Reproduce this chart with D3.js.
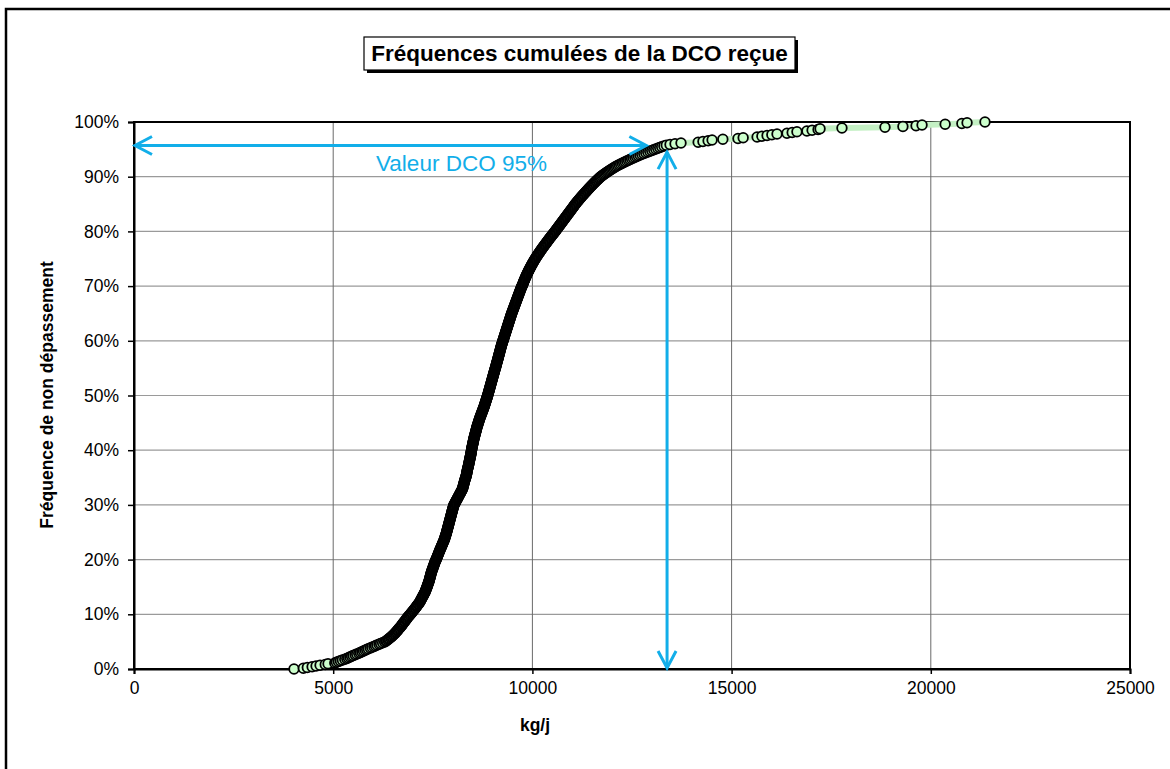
<!DOCTYPE html>
<html><head><meta charset="utf-8">
<script src="https://cdn.jsdelivr.net/npm/d3@7"></script>
<style>
body{margin:0;background:#fff;}
svg text{font-family:Arial,"Liberation Sans",Helvetica,sans-serif;}
</style>
</head><body>
<svg id="c" width="1170" height="769"></svg>
<script>
// Sorted daily DCO loads (kg/j)
const kgj = [
4016,4250,4350,4470,4570,4670,4800,4870,5040,
5080,5130,5180,5230,5290,5340,
5380,5420,5460,5500,5550,5590,5640,
5680,5720,5760,5800,5840,5880,5930,5970,
6020,6060,6100,6150,6190,6240,6290,
6320,6340,6370,6390,6410,6440,6460,
6480,6500,6520,6540,6560,6570,6590,6610,
6620,6640,6650,6670,6690,6700,6720,
6730,6740,6760,6770,6790,6800,6820,
6830,6840,6860,6870,6890,6900,6920,
6940,6950,6970,6980,7000,7010,7030,7040,7060,7070,7090,7100,7110,7130,7140,
7160,7170,7180,7190,7200,7210,7220,7230,7240,7250,7260,7270,7280,7290,7300,
7310,7315,7320,7330,7340,7345,7350,7360,7365,7370,7380,7385,7390,7400,
7405,7410,7415,7420,7425,7430,7435,7440,7445,7450,7455,7460,7465,7470,7480,
7485,7490,7500,7505,7510,7520,7525,7530,7540,7545,7550,7560,7570,7575,
7585,7590,7600,7610,7615,7620,7630,7640,7645,7650,7660,7670,7675,7680,7690,
7700,7705,7715,7720,7730,7740,7745,7755,7760,7770,7780,7785,7790,7800,
7805,7810,7815,7820,7830,7835,7840,7845,7850,7855,7860,7865,7870,7875,7880,
7885,7890,7895,7900,7905,7910,7915,7920,7925,7930,7935,7940,7945,7950,7955,
7960,7965,7970,7975,7980,7985,7990,7995,8000,8005,8010,8015,8020,8025,
8035,8045,8055,8065,8075,8085,8095,8105,8115,8125,8135,8145,8155,8165,8175,8185,8195,8205,8215,8225,8235,8245,
8250,8255,8260,8265,8270,8275,8280,8285,8290,8295,8300,8305,8310,8320,8325,
8330,8335,8340,8345,8350,8352,8355,8360,8363,8366,8370,8375,8380,8385,8390,
8394,8398,8402,8406,8410,8414,8418,8422,8426,8430,8434,8438,8442,8446,8450,8454,8458,8461,8464,8467,8470,
8473,8476,8480,8484,8488,8492,8496,8500,8504,8508,8512,8516,8520,8524,8528,
8532,8537,8542,8547,8552,8557,8562,8567,8572,8577,8582,8587,8592,8597,
8600,8606,8612,8618,8624,8630,8636,8642,8648,8654,8660,8666,8672,8678,8685,
8692,8699,8706,8713,8720,8727,8734,8741,8748,8755,8762,8769,8776,8783,
8790,8796,8802,8808,8814,8820,8826,8832,8838,8844,8850,8856,8862,8868,8875,
8881,8886,8891,8897,8902,8907,8912,8918,8923,8928,8933,8939,8944,8949,8954,8960,8965,8970,8975,8981,8986,8991,8996,9002,9007,9012,9017,9023,9028,9033,9038,9044,9049,9054,9059,9065,
9072,9077,9082,9087,9092,9097,9102,9107,9112,9118,9123,9128,9133,9138,9143,9148,9153,9158,9163,9168,9173,9178,9183,9188,9193,9198,9203,9208,9213,9218,9223,9229,9235,9241,9247,9253,9259,
9265,9271,9277,9283,9289,9295,9301,9307,9313,9319,9325,9331,9337,9343,9349,9355,9361,9367,9373,9379,9385,9391,9397,9403,9409,9415,9421,9427,9433,9439,9445,9451,9457,9463,9469,9475,
9482,9489,9496,9503,9510,9517,9524,9531,9538,9545,9552,9559,9566,9573,9580,9587,9594,9601,9608,9615,9622,9629,9636,9643,9650,9657,9664,9671,9678,9685,9692,9699,9706,9713,9720,9727,9735,
9747,9754,9761,9768,9775,9782,9790,9798,9806,9814,9822,9830,9838,9846,9855,9864,9873,9882,9891,9900,9909,9918,9928,9938,9948,9958,9968,9978,9988,9998,10009,10020,10031,10042,10053,10064,
10076,10088,10100,10112,10124,10136,10149,10162,10175,10188,10201,10214,10227,10240,10253,10267,10281,10295,10309,10323,10337,10351,10365,10379,10393,10407,10421,10435,10449,10464,10479,10494,10509,10524,10539,10554,10569,
10582,10596,10610,10624,10638,10652,10666,10680,10694,10708,10722,10736,10750,10764,10778,10792,10806,10820,10834,10848,10862,10876,10890,10904,10918,10932,10946,10960,10974,10988,11002,11016,11030,11044,11056,11068,
11085,11100,11115,11130,11146,11162,11178,11194,11210,11226,11242,11259,11276,11293,11310,11327,11344,11361,11378,11395,11412,11429,11447,11465,11483,11501,11519,11537,11556,11575,11594,11613,11633,11653,11673,11693,11713,
11738,11763,11789,11815,11842,11869,11897,11925,11954,11983,12013,12043,12074,12105,
12140,12177,12214,12252,12290,12329,12368,12408,12448,12489,12530,12572,12614,12657,12700,
12745,12795,12845,12895,12945,12995,13045,13095,13145,13195,13245,13300,13360,
13454,13580,13730,14160,14280,14410,14510,14780,15160,15290,15640,15760,15890,16010,16140,16390,16520,16640,16890,17020,17170,17220,17770,18850,19300,19630,19780,20360,20780,20910,21360
];

const xTicks = [0, 5000, 10000, 15000, 20000, 25000];
const yTicks = [0, 0.1, 0.2, 0.3, 0.4, 0.5, 0.6, 0.7, 0.8, 0.9, 1.0];
const titleText = "Fréquences cumulées de la DCO reçue";
const xTitle = "kg/j";
const yTitle = "Fréquence de non dépassement";
const annotText = "Valeur DCO 95%";
// annotation values
const p95Value = 13380;     // kg/j, vertical arrow
const hArrowLevel = 0.957;  // level of horizontal arrow
const hArrowEnd = 12860;    // kg/j, right tip of horizontal arrow
const vArrowTop = 0.945;    // top tip of vertical arrow
const annotX = 6075, annotY = 0.91;

const N = kgj.length;
const points = kgj.map((v, i) => ({x: v, y: i / (N - 1)}));

const svg = d3.select("#c");
const x = d3.scaleLinear().domain([0, 25000]).range([134, 1130]);
const y = d3.scaleLinear().domain([0, 1]).range([669, 122]);

// outer chart frame
svg.append("rect").attr("x", 6).attr("y", 9).attr("width", 1250).attr("height", 850)
  .attr("fill", "#fff").attr("stroke", "#000").attr("stroke-width", 2.5);

// gridlines
svg.append("g").selectAll("line").data(yTicks.filter(d => d > 0 && d < 1)).join("line")
  .attr("x1", x(0)).attr("x2", x(25000)).attr("y1", d => y(d)).attr("y2", d => y(d))
  .attr("stroke", "#9a9a9a").attr("stroke-width", 1.2);
svg.append("g").selectAll("line").data(xTicks.filter(d => d > 0 && d < 25000)).join("line")
  .attr("y1", y(0)).attr("y2", y(1)).attr("x1", d => x(d)).attr("x2", d => x(d))
  .attr("stroke", "#6a6a6a").attr("stroke-width", 1);

// plot frame
svg.append("rect").attr("x", x(0)).attr("y", y(1)).attr("width", x(25000) - x(0)).attr("height", y(0) - y(1))
  .attr("fill", "none").attr("stroke", "#000").attr("stroke-width", 2);

// axes
const gx = svg.append("g").attr("transform", `translate(0,${y(0)})`)
  .call(d3.axisBottom(x).tickValues(xTicks).tickSize(5).tickPadding(8).tickFormat(d3.format("d")));
const gy = svg.append("g").attr("transform", `translate(${x(0)},0)`)
  .call(d3.axisLeft(y).tickValues(yTicks).tickSize(6).tickPadding(9).tickFormat(d => Math.round(d * 100) + "%"));
[gx, gy].forEach(g => {
  g.select(".domain").attr("stroke", "#000").attr("stroke-width", 2);
  g.selectAll(".tick line").attr("stroke", "#000").attr("stroke-width", 1.5);
  g.selectAll(".tick text").attr("fill", "#000").style("font-size", "17.5px")
    .style("font-family", "Arial, 'Liberation Sans', sans-serif");
});

// series line + markers
svg.append("path").datum(points)
  .attr("d", d3.line().x(d => x(d.x)).y(d => y(d.y)))
  .attr("fill", "none").attr("stroke", "#c4f0c4").attr("stroke-width", 6);
svg.append("g").selectAll("circle").data(points).join("circle")
  .attr("cx", d => x(d.x)).attr("cy", d => y(d.y)).attr("r", 4.8)
  .attr("fill", "#ccffcc").attr("stroke", "#000").attr("stroke-width", 1.8);

// arrows
const blue = "#12aee9";
const ag = svg.append("g").attr("stroke", blue).attr("fill", "none").attr("stroke-width", 3);
const hy = y(hArrowLevel), hx1 = x(0) + 1, hx2 = x(hArrowEnd);
ag.append("line").attr("x1", hx1).attr("x2", hx2).attr("y1", hy).attr("y2", hy);
ag.append("path").attr("d", `M${hx1 + 17},${hy - 9}L${hx1},${hy}L${hx1 + 17},${hy + 9}`);
ag.append("path").attr("d", `M${hx2 - 17},${hy - 9}L${hx2},${hy}L${hx2 - 17},${hy + 9}`);
const vx = x(p95Value), vy1 = y(vArrowTop), vy2 = y(0) - 1;
ag.append("line").attr("x1", vx).attr("x2", vx).attr("y1", vy1).attr("y2", vy2);
ag.append("path").attr("d", `M${vx - 9},${vy1 + 17}L${vx},${vy1}L${vx + 9},${vy1 + 17}`);
ag.append("path").attr("d", `M${vx - 9},${vy2 - 17}L${vx},${vy2}L${vx + 9},${vy2 - 17}`);
svg.append("text").attr("x", x(annotX)).attr("y", y(annotY)).attr("fill", blue)
  .style("font-size", "22.5px").text(annotText);

// axis titles
svg.append("text").attr("x", 535).attr("y", 731).attr("text-anchor", "middle")
  .style("font-size", "17.5px").style("font-weight", "bold").text(xTitle);
svg.append("text").attr("transform", "translate(53,395) rotate(-90)").attr("text-anchor", "middle")
  .style("font-size", "17.5px").style("font-weight", "bold").text(yTitle);

// title box
svg.append("rect").attr("x", 367).attr("y", 40).attr("width", 431).attr("height", 33).attr("fill", "#000");
svg.append("rect").attr("x", 364).attr("y", 37).attr("width", 431).attr("height", 33)
  .attr("fill", "#fff").attr("stroke", "#000").attr("stroke-width", 1.2);
svg.append("text").attr("x", 579.5).attr("y", 61).attr("text-anchor", "middle")
  .style("font-size", "22.5px").style("font-weight", "bold").text(titleText);
</script>
</body></html>
